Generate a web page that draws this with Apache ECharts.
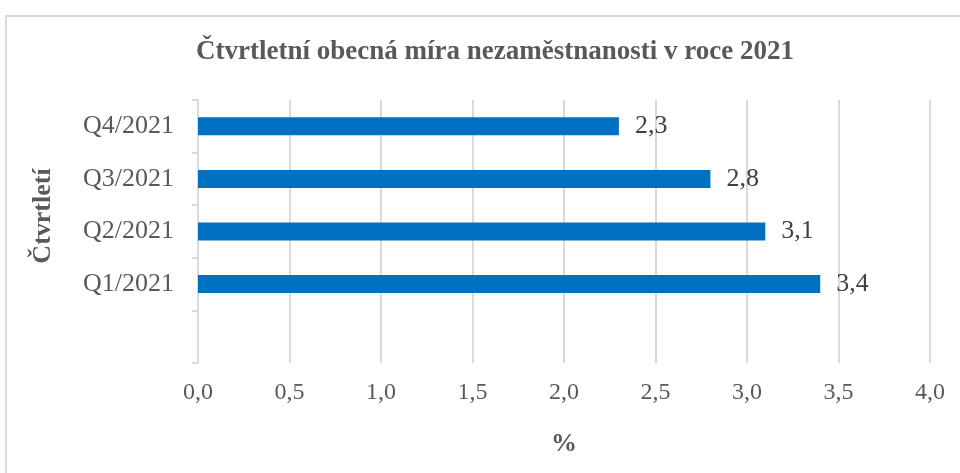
<!DOCTYPE html>
<html>
<head>
<meta charset="utf-8">
<script src="https://cdn.jsdelivr.net/npm/echarts@6/dist/echarts.min.js"></script>
<style>
  html, body { margin: 0; padding: 0; background: #fff; }
  #frame {
    position: absolute; left: 5px; top: 15px; width: 980px; height: 500px;
    border: 2px solid #d9d9d9; box-sizing: border-box;
  }
  #chart { position: absolute; left: 0; top: 0; width: 960px; height: 473px; }
</style>
</head>
<body>
<div id="frame"></div>
<div id="chart"></div>
<script>
  // data (bottom category left empty like in the original)
  var quarters = ['', 'Q1/2021', 'Q2/2021', 'Q3/2021', 'Q4/2021'];
  var rate = [null, 3.4, 3.1, 2.8, 2.3];
  var xTicks = [0, 0.5, 1, 1.5, 2, 2.5, 3, 3.5, 4];

  var font = '"Liberation Serif", "Times New Roman", serif';
  var chart = echarts.init(document.getElementById('chart'));
  chart.setOption({
    animation: false,
    textStyle: { fontFamily: font },
    title: {
      text: 'Čtvrtletní obecná míra nezaměstnanosti v roce 2021',
      left: 191,
      top: 34,
      textStyle: { fontFamily: font, fontSize: 27, fontWeight: 'bold', color: '#595959' }
    },
    grid: { left: 198, right: 30, top: 100, bottom: 110 },
    graphic: [{
      type: 'text',
      x: 43,
      y: 216,
      rotation: Math.PI / 2,
      style: {
        text: 'Čtvrtletí',
        font: 'bold 26px ' + font,
        fill: '#595959',
        align: 'center',
        verticalAlign: 'middle'
      }
    }],
    xAxis: {
      type: 'value',
      min: xTicks[0],
      max: xTicks[xTicks.length - 1],
      interval: 0.5,
      name: '%',
      nameLocation: 'middle',
      nameGap: 68,
      nameTextStyle: { fontFamily: font, fontSize: 26, fontWeight: 'bold', color: '#595959' },
      axisLine: { show: false },
      axisTick: { show: false },
      axisLabel: {
        margin: 18,
        fontFamily: font, fontSize: 24, color: '#595959',
        formatter: function (v) { return v.toFixed(1).replace('.', ','); }
      },
      splitLine: { lineStyle: { color: '#d9d9d9', width: 2 } }
    },
    yAxis: {
      type: 'category',
      data: quarters,
      axisLine: { show: true, lineStyle: { color: '#d9d9d9', width: 2 } },
      axisTick: { show: true, length: 6, lineStyle: { color: '#d9d9d9', width: 2 } },
      axisLabel: { margin: 24, fontFamily: font, fontSize: 26, color: '#595959' }
    },
    series: [{
      type: 'bar',
      data: rate,
      barWidth: 18,
      itemStyle: { color: '#0070C0' },
      label: {
        show: true,
        position: 'right',
        distance: 16,
        fontFamily: font,
        fontSize: 26,
        color: '#404040',
        formatter: function (p) { return p.value.toFixed(1).replace('.', ','); }
      }
    }]
  });
</script>
</body>
</html>
